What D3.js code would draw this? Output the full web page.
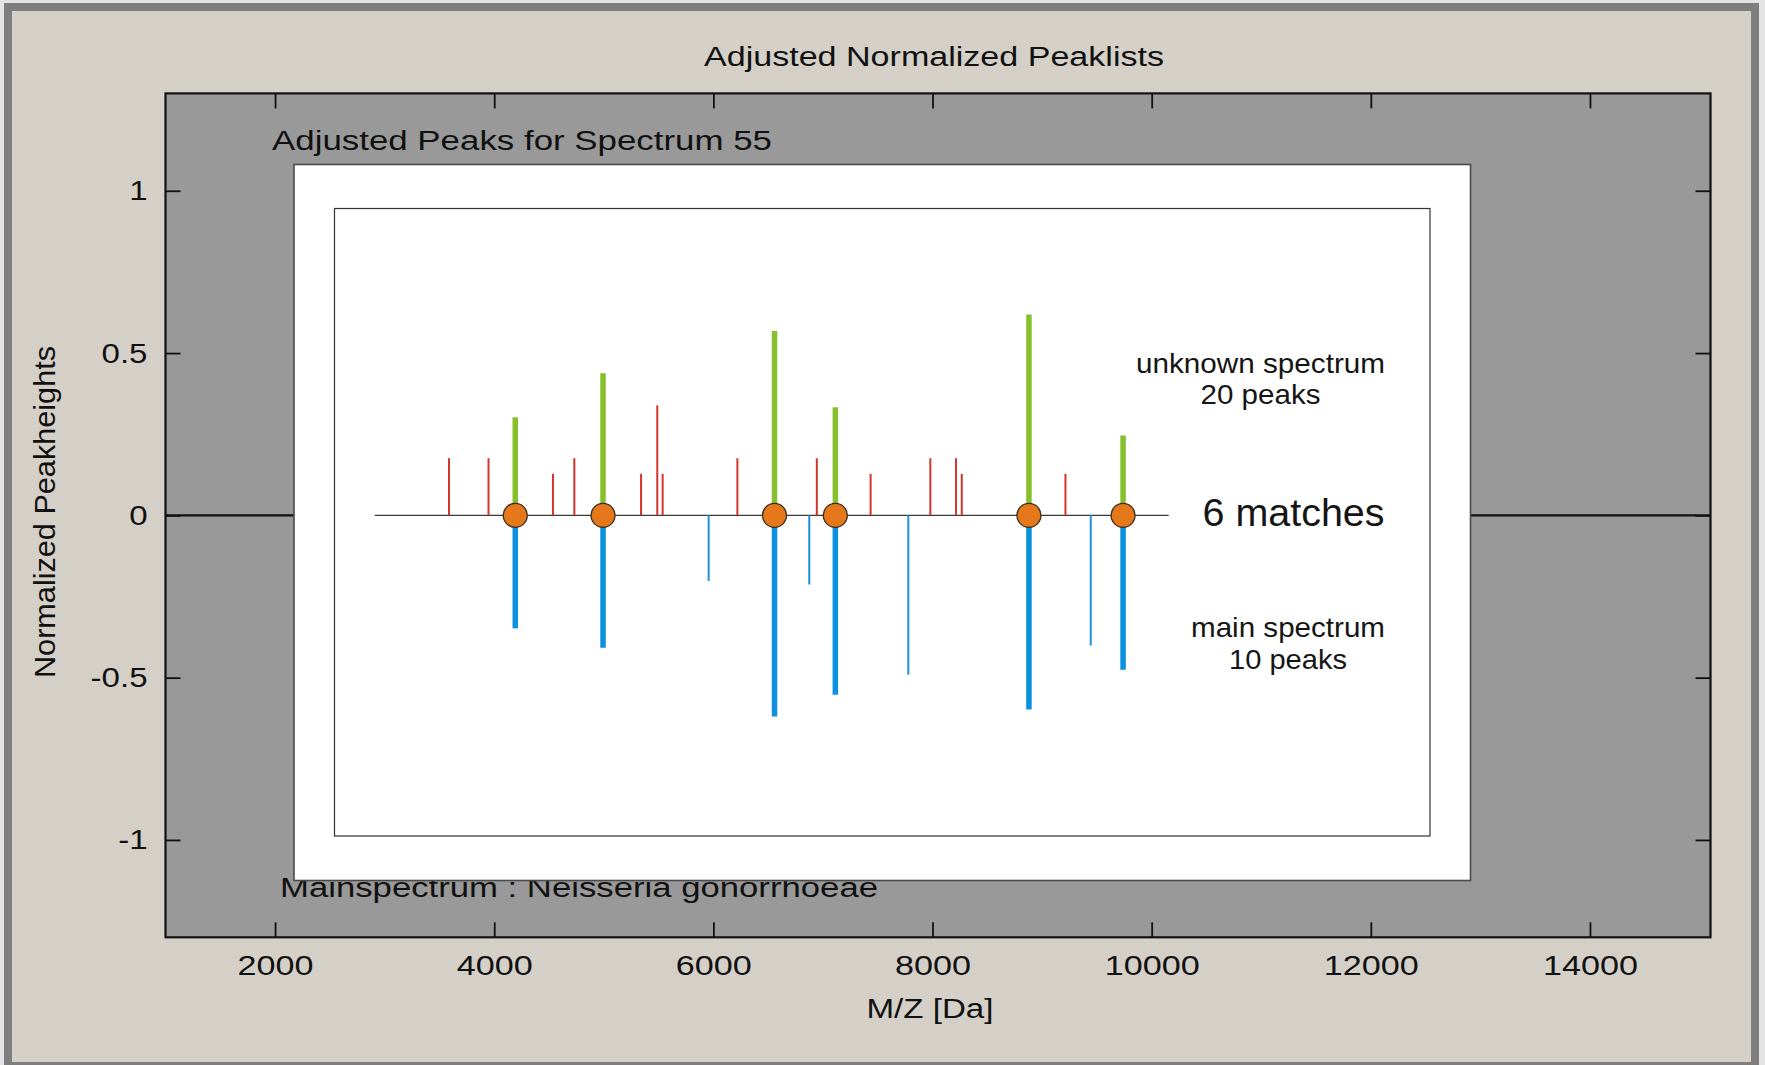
<!DOCTYPE html>
<html>
<head>
<meta charset="utf-8">
<script src="https://cdn.jsdelivr.net/npm/d3@7"></script>
<style>
  html, body { margin: 0; padding: 0; background: #e6e6e6; }
  svg { display: block; }
  text { font-family: "Liberation Sans", Arial, sans-serif; }
</style>
</head>
<body>
<svg id="chart" width="1765" height="1065"></svg>
<script>
// ---------------- data ----------------
const xTicks = [2000, 4000, 6000, 8000, 10000, 12000, 14000];
const yTicks = [-1, -0.5, 0, 0.5, 1];
const xDomain = [1000, 15100];
const yDomain = [-1.3, 1.3];

// unknown-spectrum peaks without a match (thin red)
const unknownOnlyMz     = [3587, 3948, 4536, 4731, 5340, 5488, 5537, 6219, 6944, 7435, 7980, 8214, 8267, 9213];
const unknownOnlyHeight = [0.176, 0.176, 0.128, 0.176, 0.128, 0.339, 0.128, 0.176, 0.176, 0.128, 0.176, 0.176, 0.128, 0.128];

// matched peaks (green up = unknown, blue down = main, orange dot)
const matchMz            = [4192, 4993, 6558, 7113, 8880, 9739];
const matchUnknownHeight = [0.302, 0.438, 0.568, 0.333, 0.619, 0.246];
const matchMainHeight    = [-0.348, -0.408, -0.620, -0.553, -0.598, -0.476];

// main-spectrum peaks without a match (thin blue)
const mainOnlyMz     = [5957, 6875, 7779, 9444];
const mainOnlyHeight = [-0.202, -0.213, -0.491, -0.401];

// inset baseline extent (m/z)
const insetBaseline = [2910, 10155];

const titleText    = "Adjusted Normalized Peaklists";
const subtitleText = "Adjusted Peaks for Spectrum 55";
const footText     = "Mainspectrum : Neisseria gonorrhoeae";
const xLabelText   = "M/Z [Da]";
const yLabelText   = "Normalized Peakheights";

// ---------------- layout ----------------
const W = 1765, H = 1065;
const plot = { left: 165.5, right: 1710.5, top: 93.4, bottom: 937.3 };
const svg = d3.select("#chart");

const x = d3.scaleLinear().domain(xDomain).range([plot.left, plot.right]);
const y = d3.scaleLinear().domain(yDomain).range([plot.bottom, plot.top]);

// window frame
svg.append("rect").attr("x", 0).attr("y", 0).attr("width", W).attr("height", H).attr("fill", "#e4e4e4");
svg.append("rect").attr("x", 4).attr("y", 3).attr("width", W - 10).attr("height", H - 3).attr("fill", "#7e7e7e");
svg.append("rect").attr("x", 12).attr("y", 11).attr("width", 1739).attr("height", 1051).attr("fill", "#d4d0c8");

// plot background
svg.append("rect")
  .attr("x", plot.left).attr("y", plot.top)
  .attr("width", plot.right - plot.left).attr("height", plot.bottom - plot.top)
  .attr("fill", "#999999");

// zero line of main axes
svg.append("line")
  .attr("x1", plot.left).attr("x2", plot.right)
  .attr("y1", y(0)).attr("y2", y(0))
  .attr("stroke", "#111").attr("stroke-width", 2.2);

function stretch(sel, k) {
  sel.each(function () {
    const L = this.getComputedTextLength();
    d3.select(this).attr("textLength", L * k).attr("lengthAdjust", "spacingAndGlyphs");
  });
}

const tickLen = 15;
// bottom axis
const gx = svg.append("g").attr("transform", `translate(0,${plot.bottom})`)
  .call(d3.axisBottom(x).tickValues(xTicks).tickFormat(d => String(d))
        .tickSizeInner(-tickLen).tickSizeOuter(0).tickPadding(18));
// top axis (ticks only)
const gxt = svg.append("g").attr("transform", `translate(0,${plot.top})`)
  .call(d3.axisTop(x).tickValues(xTicks).tickFormat("")
        .tickSizeInner(-tickLen).tickSizeOuter(0));
// left axis
const gy = svg.append("g").attr("transform", `translate(${plot.left},0)`)
  .call(d3.axisLeft(y).tickValues(yTicks).tickFormat(d => String(d))
        .tickSizeInner(-tickLen).tickSizeOuter(0).tickPadding(18));
// right axis (ticks only)
const gyr = svg.append("g").attr("transform", `translate(${plot.right},0)`)
  .call(d3.axisRight(y).tickValues(yTicks).tickFormat("")
        .tickSizeInner(-tickLen).tickSizeOuter(0));

[gx, gxt, gy, gyr].forEach(g => {
  g.select(".domain").remove();
  g.selectAll(".tick line").attr("stroke", "#111").attr("stroke-width", 1.8);
});
gx.selectAll("text").attr("font-size", 28).attr("fill", "#111");
gy.selectAll("text").attr("font-size", 28).attr("fill", "#111");
stretch(gx.selectAll("text"), 1.22);
stretch(gy.selectAll("text"), 1.18);

// plot border
svg.append("rect")
  .attr("x", plot.left).attr("y", plot.top)
  .attr("width", plot.right - plot.left).attr("height", plot.bottom - plot.top)
  .attr("fill", "none").attr("stroke", "#111").attr("stroke-width", 2.2);

// titles and labels
function label(txt, px, py, size, anchor, len) {
  return svg.append("text").text(txt)
    .attr("x", px).attr("y", py)
    .attr("font-size", size).attr("text-anchor", anchor).attr("fill", "#111")
    .attr("textLength", len).attr("lengthAdjust", "spacingAndGlyphs");
}
label(titleText, 934, 66, 27, "middle", 460);
label(subtitleText, 272, 150, 27, "start", 500);
label(footText, 280, 897, 27, "start", 598);
label(xLabelText, 930, 1018, 27, "middle", 127);
svg.append("text").text(yLabelText)
  .attr("transform", "translate(55,512) rotate(-90)")
  .attr("font-size", 30).attr("text-anchor", "middle").attr("fill", "#111")
  .attr("textLength", 332).attr("lengthAdjust", "spacingAndGlyphs");

// ---------------- inset ----------------
const outerBox = { x: 294, y: 164.5, w: 1176.5, h: 716 };
const innerBox = { x: 334.5, y: 208.5, w: 1095.5, h: 627.5 };
svg.append("rect").attr("x", outerBox.x).attr("y", outerBox.y)
  .attr("width", outerBox.w).attr("height", outerBox.h)
  .attr("fill", "#ffffff").attr("stroke", "#4a4a4a").attr("stroke-width", 1.6);
svg.append("rect").attr("x", innerBox.x).attr("y", innerBox.y)
  .attr("width", innerBox.w).attr("height", innerBox.h)
  .attr("fill", "#ffffff").attr("stroke", "#333").attr("stroke-width", 1.2);

const inset = svg.append("g");
inset.append("line")
  .attr("x1", x(insetBaseline[0])).attr("x2", x(insetBaseline[1]))
  .attr("y1", y(0)).attr("y2", y(0))
  .attr("stroke", "#3a3a3a").attr("stroke-width", 1.4);

const unknownOnly = unknownOnlyMz.map((m, i) => ({ m, h: unknownOnlyHeight[i] }));
const mainOnly = mainOnlyMz.map((m, i) => ({ m, h: mainOnlyHeight[i] }));
const matches = matchMz.map((m, i) => ({ m, up: matchUnknownHeight[i], down: matchMainHeight[i] }));

inset.selectAll(".red").data(unknownOnly).join("line").attr("class", "red")
  .attr("x1", d => x(d.m)).attr("x2", d => x(d.m))
  .attr("y1", y(0)).attr("y2", d => y(d.h))
  .attr("stroke", "#d2352b").attr("stroke-width", 2);

inset.selectAll(".bthin").data(mainOnly).join("line").attr("class", "bthin")
  .attr("x1", d => x(d.m)).attr("x2", d => x(d.m))
  .attr("y1", y(0)).attr("y2", d => y(d.h))
  .attr("stroke", "#1b93dc").attr("stroke-width", 2);

inset.selectAll(".green").data(matches).join("line").attr("class", "green")
  .attr("x1", d => x(d.m)).attr("x2", d => x(d.m))
  .attr("y1", y(0)).attr("y2", d => y(d.up))
  .attr("stroke", "#86c02c").attr("stroke-width", 5.5);

inset.selectAll(".blue").data(matches).join("line").attr("class", "blue")
  .attr("x1", d => x(d.m)).attr("x2", d => x(d.m))
  .attr("y1", y(0)).attr("y2", d => y(d.down))
  .attr("stroke", "#0d90df").attr("stroke-width", 5.5);

inset.selectAll(".dot").data(matches).join("circle").attr("class", "dot")
  .attr("cx", d => x(d.m)).attr("cy", y(0)).attr("r", 12)
  .attr("fill", "#e5781b").attr("stroke", "#3b2a1c").attr("stroke-width", 1.3);

function insetText(txt, cx, by, size, len) {
  svg.append("text").text(txt).attr("x", cx).attr("y", by)
    .attr("font-size", size).attr("text-anchor", "middle").attr("fill", "#151515")
    .attr("textLength", len).attr("lengthAdjust", "spacingAndGlyphs");
}
insetText("unknown spectrum", 1260.5, 373, 28, 249);
insetText("20 peaks", 1260.5, 404, 28, 120);
insetText("6 matches", 1293.5, 526, 38, 182);
insetText("main spectrum", 1288, 637, 28, 194);
insetText("10 peaks", 1288, 669, 28, 118);
</script>
</body>
</html>
